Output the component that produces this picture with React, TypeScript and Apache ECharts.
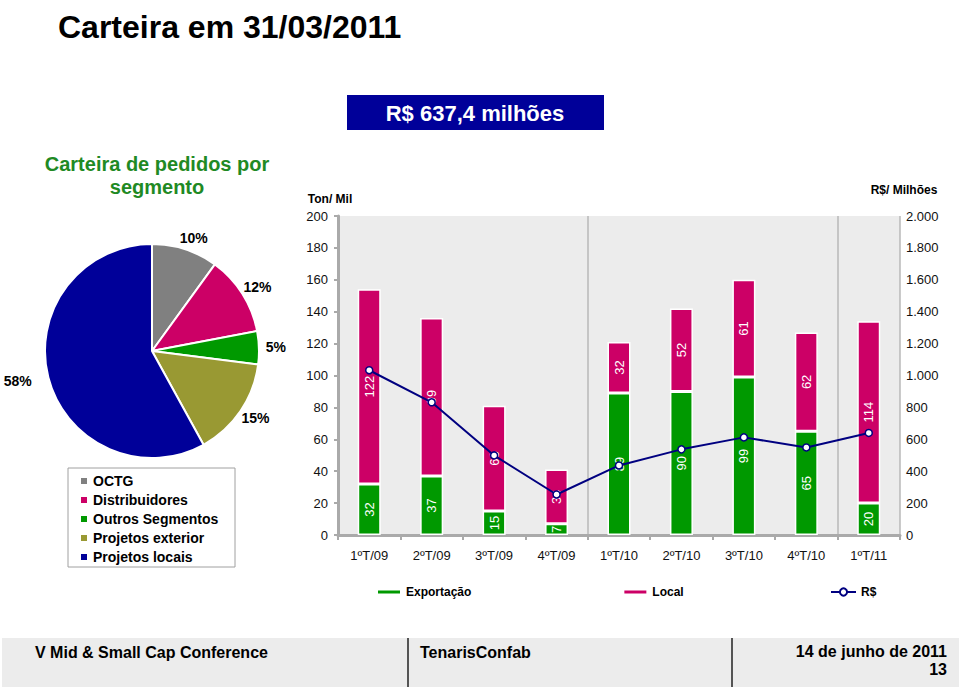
import React, { useEffect, useRef } from 'react';
import * as echarts from 'echarts';

const FONT = '"Liberation Sans", Arial, Helvetica, sans-serif';

// Pie: carteira de pedidos por segmento (%)
const segmentNames = ['OCTG', 'Distribuidores', 'Outros Segmentos', 'Projetos exterior', 'Projetos locais'];
const segmentShares = [10, 12, 5, 15, 58];
const segmentColors = ['#808080', '#cc0066', '#009900', '#999933', '#000099'];

// Bars: Ton/Mil per quarter
const quarters = ['1ºT/09', '2ºT/09', '3ºT/09', '4ºT/09', '1ºT/10', '2ºT/10', '3ºT/10', '4ºT/10', '1ºT/11'];
const exportacao = [32, 37, 15, 7, 89, 90, 99, 65, 20];
const local = [122, 99, 66, 34, 32, 52, 61, 62, 114];
// Line: R$ milhões
const receita = [1033, 832, 499, 254, 436, 537, 612, 549, 640];

const leftTicks = { min: 0, max: 200, interval: 20 };
const rightTicks = { min: 0, max: 2000, interval: 200 };

function fmtThousands(v: number): string {
  if (v >= 1000) {
    const k = Math.floor(v / 1000);
    const r = v % 1000;
    return k + '.' + String(r).padStart(3, '0');
  }
  return String(v);
}

export default function App() {
  const ref = useRef<HTMLDivElement>(null);

  useEffect(() => {
    const chart = echarts.init(ref.current!, null, { renderer: 'svg' });
    const option: any = {
      animation: false,
      backgroundColor: '#ffffff',
      textStyle: { fontFamily: FONT },
      grid: {
        left: 338,
        right: 59,
        top: 216,
        bottom: 154,
        show: true,
        backgroundColor: '#ececec',
        borderWidth: 0,
      },
      xAxis: {
        type: 'category',
        data: quarters,
        axisLine: { lineStyle: { color: '#aaaaaa', width: 3 } },
        axisTick: { show: true, length: 5, lineStyle: { color: '#aaaaaa', width: 2 } },
        axisLabel: { fontSize: 13, color: '#111', margin: 14, fontFamily: FONT },
        splitLine: {
          show: true,
          interval: (i: number) => i === 4 || i === 8,
          lineStyle: { color: '#b8b8b8', width: 1.5 },
        },
      },
      yAxis: [
        {
          type: 'value',
          ...leftTicks,
          name: 'Ton/ Mil',
          nameLocation: 'end',
          nameGap: 11,
          nameTextStyle: { fontSize: 12, fontWeight: 'bold', color: '#000', padding: [0, 16, 0, 0], fontFamily: FONT },
          axisLine: { show: true, lineStyle: { color: '#aaaaaa', width: 3 } },
          axisTick: { show: true, length: 4, lineStyle: { color: '#aaaaaa', width: 2 } },
          axisLabel: { fontSize: 13, color: '#111', margin: 10, fontFamily: FONT },
          splitLine: { show: false },
        },
        {
          type: 'value',
          ...rightTicks,
          position: 'right',
          name: 'R$/ Milhões',
          nameLocation: 'end',
          nameGap: 20,
          nameTextStyle: { fontSize: 12, fontWeight: 'bold', color: '#000', padding: [0, 0, 0, 8], fontFamily: FONT },
          axisLine: { show: false },
          axisTick: { show: false },
          axisLabel: { fontSize: 13, color: '#111', margin: 6, formatter: (v: number) => fmtThousands(v), fontFamily: FONT },
          splitLine: { show: false },
        },
      ],
      legend: [
        {
          data: segmentNames,
          orient: 'vertical',
          left: 74,
          top: 468,
          icon: 'rect',
          itemWidth: 8,
          itemHeight: 8,
          itemGap: 3,
          selectedMode: false,
          textStyle: { fontSize: 14, fontWeight: 'bold', color: '#000', lineHeight: 16, fontFamily: FONT },
        },
        {
          data: ['Exportação', 'Local'],
          left: 371,
          top: 581,
          icon: 'rect',
          itemWidth: 24,
          itemHeight: 5,
          itemGap: 151,
          selectedMode: false,
          textStyle: { fontSize: 12, fontWeight: 'bold', color: '#000', fontFamily: FONT },
        },
        {
          data: ['R$'],
          left: 825,
          top: 581,
          itemWidth: 25,
          itemHeight: 9,
          selectedMode: false,
          textStyle: { fontSize: 12, fontWeight: 'bold', color: '#000', fontFamily: FONT },
        },
      ],
      series: [
        {
          type: 'pie',
          name: 'Segmentos',
          center: [152, 351],
          radius: 107,
          startAngle: 90,
          clockwise: true,
          data: segmentNames.map((n, i) => ({ name: n, value: segmentShares[i], itemStyle: { color: segmentColors[i] } })),
          itemStyle: { borderColor: '#ffffff', borderWidth: 2 },
          label: {
            show: true,
            position: 'outside',
            formatter: '{c}%',
            fontSize: 14,
            fontWeight: 'bold',
            color: '#000',
            fontFamily: FONT,
            bleedMargin: 0,
            overflow: 'none',
          },
          labelLine: { show: false, length: 12, length2: 0 },
          labelLayout: (p: any) => (p.align === 'left' ? { dx: -p.labelRect.width / 2 } : {}),
          emphasis: { disabled: true },
        },
        {
          type: 'bar',
          name: 'Exportação',
          stack: 'ton',
          data: exportacao,
          barWidth: 23,
          itemStyle: { color: '#009900', borderColor: '#ffffff', borderWidth: 1.5 },
          label: { show: true, position: 'inside', rotate: 90, color: '#fff', fontSize: 13, fontFamily: FONT },
        },
        {
          type: 'bar',
          name: 'Local',
          stack: 'ton',
          data: local,
          barWidth: 23,
          itemStyle: { color: '#cc0066', borderColor: '#ffffff', borderWidth: 1.5 },
          label: { show: true, position: 'inside', rotate: 90, color: '#fff', fontSize: 13, fontFamily: FONT },
        },
        {
          type: 'line',
          name: 'R$',
          yAxisIndex: 1,
          data: receita,
          z: 5,
          symbol: 'circle',
          symbolSize: 7,
          lineStyle: { color: '#000080', width: 2 },
          itemStyle: { color: '#ffffff', borderColor: '#000080', borderWidth: 1.5 },
        },
      ],
      graphic: [
        {
          type: 'text',
          x: 58,
          y: 27,
          style: { text: 'Carteira em 31/03/2011', fontSize: 32, fontWeight: 'bold', fontFamily: FONT, fill: '#000', verticalAlign: 'middle' },
        },
        { type: 'rect', shape: { x: 347, y: 95, width: 257, height: 35 }, style: { fill: '#000099' } },
        {
          type: 'text',
          x: 475,
          y: 113,
          style: { text: 'R$ 637,4 milhões', fontSize: 22, fontWeight: 'bold', fontFamily: FONT, fill: '#fff', align: 'center', verticalAlign: 'middle' },
        },
        {
          type: 'text',
          x: 157,
          y: 152,
          style: {
            text: 'Carteira de pedidos por\nsegmento',
            fontSize: 20,
            lineHeight: 23,
            fontWeight: 'bold',
            fontFamily: FONT,
            fill: '#1f8a24',
            align: 'center',
            verticalAlign: 'top',
          },
        },
        {
          type: 'rect',
          z: 0,
          shape: { x: 68, y: 468, width: 167, height: 99 },
          style: { fill: '#ffffff', stroke: '#a0a0a0', lineWidth: 1 },
        },
        { type: 'rect', shape: { x: 2, y: 638, width: 957, height: 49 }, style: { fill: '#ececec' } },
        { type: 'line', shape: { x1: 408, y1: 638, x2: 408, y2: 687 }, style: { stroke: '#222', lineWidth: 1.5 } },
        { type: 'line', shape: { x1: 732, y1: 638, x2: 732, y2: 687 }, style: { stroke: '#222', lineWidth: 1.5 } },
        {
          type: 'text',
          x: 35,
          y: 652,
          style: { text: 'V Mid & Small Cap Conference', fontSize: 16, fontWeight: 'bold', fontFamily: FONT, fill: '#000', verticalAlign: 'middle' },
        },
        {
          type: 'text',
          x: 420,
          y: 652,
          style: { text: 'TenarisConfab', fontSize: 16, fontWeight: 'bold', fontFamily: FONT, fill: '#000', verticalAlign: 'middle' },
        },
        {
          type: 'text',
          x: 947,
          y: 651,
          style: { text: '14 de junho de 2011', fontSize: 16, fontWeight: 'bold', fontFamily: FONT, fill: '#000', align: 'right', verticalAlign: 'middle' },
        },
        {
          type: 'text',
          x: 947,
          y: 669,
          style: { text: '13', fontSize: 16, fontWeight: 'bold', fontFamily: FONT, fill: '#000', align: 'right', verticalAlign: 'middle' },
        },
      ],
    };
    chart.setOption(option);
    return () => chart.dispose();
  }, []);

  return (
    <div
      ref={ref}
      style={{ position: 'absolute', left: 0, top: 0, width: 959, height: 689, background: '#ffffff' }}
    />
  );
}
